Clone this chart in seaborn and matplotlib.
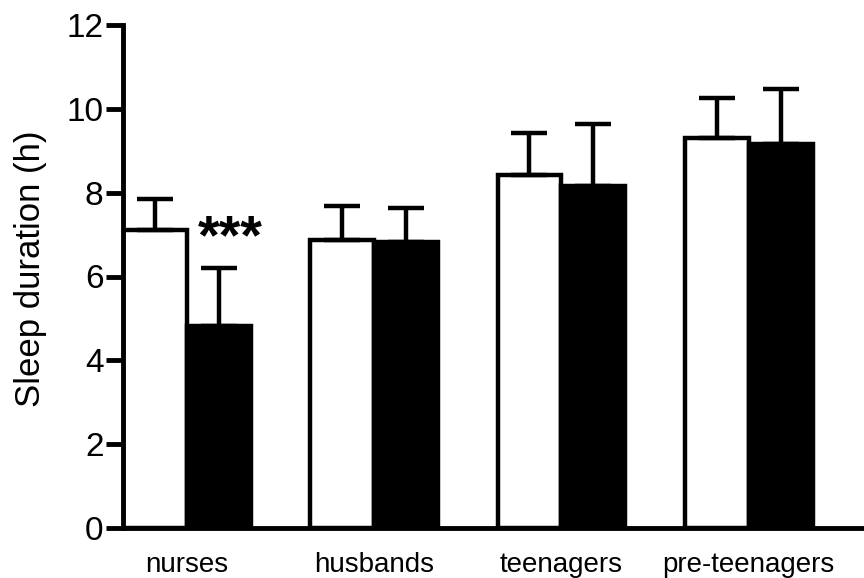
import numpy as np
import pandas as pd
import matplotlib
matplotlib.use("Agg")
import matplotlib.pyplot as plt
import seaborn as sns

# values
groups = ["nurses", "husbands", "teenagers", "pre-teenagers"]
conditions = ["control", "test"]
means_control = [7.10, 6.87, 8.43, 9.31]
sd_control = [0.75, 0.82, 0.99, 0.94]
means_test = [4.83, 6.82, 8.17, 9.15]
sd_test = [1.37, 0.81, 1.46, 1.32]
yticks = [0, 2, 4, 6, 8, 10, 12]

sns.set_style("ticks")
plt.rcParams["font.family"] = ["Liberation Sans", "DejaVu Sans"]
for k in ["text.color", "axes.labelcolor", "xtick.color", "ytick.color", "axes.edgecolor"]:
    plt.rcParams[k] = "black"

df = pd.DataFrame({
    "group": groups * 2,
    "condition": [conditions[0]] * 4 + [conditions[1]] * 4,
    "mean": means_control + means_test,
    "sd": sd_control + sd_test,
})

fig = plt.figure(figsize=(8.64, 5.78), dpi=100)
ax = fig.add_axes([123 / 864, 1 - 528 / 578, 1 - 123 / 864, 503 / 578])

sns.barplot(data=df, x="group", y="mean", hue="condition",
            palette=["white", "black"], edgecolor="black", linewidth=3.2,
            width=0.683, errorbar=None, legend=False, ax=ax)

# upper-only error bars (mean + SD), drawn on top of each bar
sds = [sd_control, sd_test]
for cont, sd in zip(ax.containers, sds):
    xs = [b.get_x() + b.get_width() / 2 for b in cont]
    hs = [b.get_height() for b in cont]
    ax.errorbar(xs, hs, yerr=[np.zeros(len(sd)), sd], fmt="none",
                ecolor="black", elinewidth=3.2, capsize=13, capthick=3.2,
                zorder=5)

# significance marker
ax.text(0.232, 6.55, "***", ha="center", va="baseline", fontsize=40,
        fontweight="bold")

ax.set_ylim(0, 12)
ax.set_xlim(-0.342, 3.616)
ax.set_yticks(yticks)
ax.set_xlabel("")
ax.set_ylabel("Sleep duration (h)", fontsize=25)
ax.yaxis.set_label_coords(-0.1255, 0.516)
ax.yaxis.label.set_verticalalignment("center")

sns.despine(ax=ax)
for s in ["left", "bottom"]:
    ax.spines[s].set_linewidth(3.5)
ax.tick_params(axis="y", length=12, width=3.5, pad=2, labelsize=24)
ax.tick_params(axis="x", length=0, pad=17, labelsize=20)

fig.savefig("out.png", dpi=100)
